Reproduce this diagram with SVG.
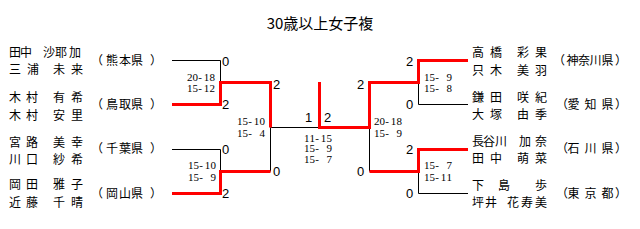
<svg xmlns="http://www.w3.org/2000/svg" width="640" height="229" viewBox="0 0 640 229">
<style>
.t{font-family:"Noto Sans CJK JP",sans-serif;font-size:15px;fill:#000}
.n{font-family:"Noto Sans CJK JP",sans-serif;font-size:12px;fill:#000}
.sc{font-family:"Liberation Sans",sans-serif;font-size:13px;fill:#000}
.gs{font-family:"Liberation Serif",serif;font-size:11px;fill:#000}
.k{stroke:#000;stroke-width:1;fill:none}
.r{stroke:#f00;stroke-width:3;fill:none}
</style>
<rect width="640" height="229" fill="#fff"/>
<text class="t" x="320" y="29" text-anchor="middle">30歳以上女子複</text>

<g id="connectors">
<path class="k" d="M172 60.5H220.5V82M172 149.5H220.5V171M270.5 127.5V171.5M270.5 127.5H319M418.5 82.5V104.5H468M369.5 127.5V171.5M418.5 171.5V193.5H468"/>
<path class="r" d="M172 104.5H220.5V82.5H270.5V127.5"/>
<path class="r" d="M172 193.5H220.5V171.5H270.5"/>
<path class="r" d="M319.5 82V127.5H369.5V82.5H418.5V60.5H468"/>
<path class="r" d="M369.5 171.5H418.5V149.5H468"/>
</g>

<g id="entry-kumamoto">
<text class="n" x="9 20 43 55 69" y="56.5">田中沙耶加</text>
<text class="n" x="9 27 53 71" y="74">三浦未来</text>
<text class="n" x="91 106 119 131 150" y="64.5">（熊本県）</text>
</g>
<g id="entry-tottori">
<text class="n" x="9 26 53 71" y="101.5">木村有希</text>
<text class="n" x="9 26 53 71" y="120">木村安里</text>
<text class="n" x="91 106 119 131 150" y="109">（鳥取県）</text>
</g>
<g id="entry-chiba">
<text class="n" x="9 26 53 71" y="146.5">宮路美幸</text>
<text class="n" x="9 26 53 71" y="163.5">川口紗希</text>
<text class="n" x="91 106 119 131 150" y="153">（千葉県）</text>
</g>
<g id="entry-okayama">
<text class="n" x="9 26 53 71" y="189">岡田雅子</text>
<text class="n" x="9 26 53 71" y="207">近藤千晴</text>
<text class="n" x="91 106 119 131 150" y="198">（岡山県）</text>
</g>

<g id="entry-kanagawa">
<text class="n" x="472 490 517 535" y="56.5">高橋彩果</text>
<text class="n" x="472 490 517 535" y="74.5">只木美羽</text>
<text class="n" x="553 566.5 578 589.5 601.5 615" y="64.5">（神奈川県）</text>
</g>
<g id="entry-aichi">
<text class="n" x="472 490 517 535" y="101.5">鎌田咲紀</text>
<text class="n" x="472 490 517 535" y="118.5">大塚由季</text>
<text class="n" x="556 567.5 584.5 601.5 615" y="108.5">（愛知県）</text>
</g>
<g id="entry-ishikawa">
<text class="n" x="472 483 495 519 535" y="145.5">長谷川加奈</text>
<text class="n" x="472 490 517 535" y="162.5">田中萌菜</text>
<text class="n" x="556 567.5 584.5 601.5 615" y="153">（石川県）</text>
</g>
<g id="entry-tokyo">
<text class="n" x="472 498 535" y="189.5">下島歩</text>
<text class="n" x="472 485 507 521 535" y="207">坪井花寿美</text>
<text class="n" x="556 567.5 584.5 601.5 615" y="197.5">（東京都）</text>
</g>

<g id="scores">
<text class="sc" x="222" y="66">0</text>
<text class="sc" x="222" y="109">2</text>
<text class="sc" x="222" y="154">0</text>
<text class="sc" x="222" y="198">2</text>
<text class="sc" x="273" y="88.5">2</text>
<text class="sc" x="273" y="176">0</text>
<text class="sc" x="305" y="122">1</text>
<text class="sc" x="324" y="122">2</text>
<text class="sc" x="357" y="88.5">2</text>
<text class="sc" x="357" y="176">0</text>
<text class="sc" x="406" y="66">2</text>
<text class="sc" x="406" y="109">0</text>
<text class="sc" x="406" y="154">2</text>
<text class="sc" x="406" y="198">0</text>
</g>

<g id="game-scores" xml:space="preserve">
<text class="gs" x="187 192.6 198.2 203.8 209.4" y="80.5">20-18</text>
<text class="gs" x="187 192.6 198.2 203.8 209.4" y="92">15-12</text>
<text class="gs" x="188 193.6 199.2 204.8 210.4" y="169">15-10</text>
<text class="gs" x="188 193.6 199.2 204.8 210.4" y="181">15- 9</text>
<text class="gs" x="237 242.6 248.2 253.8 259.4" y="125">15-10</text>
<text class="gs" x="237 242.6 248.2 253.8 259.4" y="136.5">15- 4</text>
<text class="gs" x="304 309.6 315.2 320.8 326.4" y="141.5">11-15</text>
<text class="gs" x="304 309.6 315.2 320.8 326.4" y="152">15- 9</text>
<text class="gs" x="304 309.6 315.2 320.8 326.4" y="162.5">15- 7</text>
<text class="gs" x="374 379.6 385.2 390.8 396.4" y="125">20-18</text>
<text class="gs" x="374 379.6 385.2 390.8 396.4" y="136.5">15- 9</text>
<text class="gs" x="424 429.6 435.2 440.8 446.4" y="80.5">15- 9</text>
<text class="gs" x="424 429.6 435.2 440.8 446.4" y="91.5">15- 8</text>
<text class="gs" x="424 429.6 435.2 440.8 446.4" y="168.5">15- 7</text>
<text class="gs" x="424 429.6 435.2 440.8 446.4" y="180.5">15-11</text>
</g>
</svg>
